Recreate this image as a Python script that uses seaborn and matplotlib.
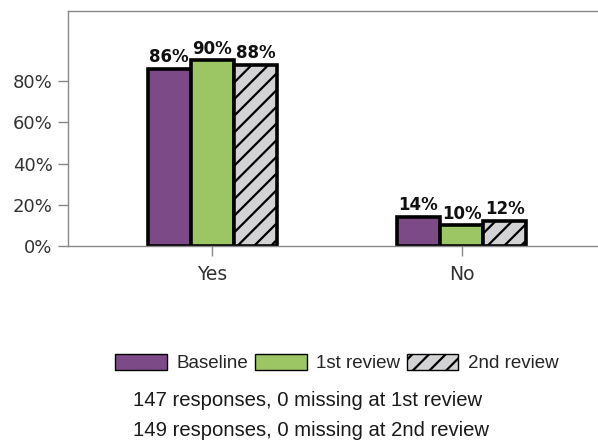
import numpy as np
import pandas as pd
import matplotlib
matplotlib.use('Agg')
import matplotlib.pyplot as plt
from matplotlib.patches import Patch
import seaborn as sns

# Data
answers = ['Yes', 'No']
reviews = ['Baseline', '1st review', '2nd review']
baseline_pct = [86, 14]
first_review_pct = [90, 10]
second_review_pct = [88, 12]
y_ticks = [0, 20, 40, 60, 80]
notes = ['147 responses, 0 missing at 1st review',
         '149 responses, 0 missing at 2nd review']

PALETTE = {'Baseline': '#7d4a88', '1st review': '#9cc563', '2nd review': '#d3d3d5'}

df = pd.DataFrame({
    'answer': answers * 3,
    'review': np.repeat(reviews, len(answers)),
    'pct': baseline_pct + first_review_pct + second_review_pct,
})

sns.set_style('white')
plt.rcParams['font.family'] = ['DejaVu Sans']
plt.rcParams['hatch.linewidth'] = 1.6

fig = plt.figure(figsize=(5.98, 4.41), dpi=100)
ax = fig.add_axes([68 / 598, 1 - 246 / 441, (606 - 68) / 598, (246 - 11) / 441])

sns.barplot(data=df, x='answer', y='pct', hue='review', order=answers,
            hue_order=reviews, palette=PALETTE, saturation=1, edgecolor='black',
            linewidth=2.6, width=0.52, gap=0, ax=ax, legend=False)

for bar in ax.containers[2]:
    bar.set_hatch('//')

for cont in ax.containers:
    ax.bar_label(cont, fmt='%d%%', fontweight='bold', fontsize=12,
                 padding=2, color='#111111')

ax.set_xlim(-0.58, 1.58)
ax.set_ylim(0, 114)
ax.set_yticks(y_ticks)
ax.set_yticklabels([f'{v}%' for v in y_ticks])
ax.set_xlabel('')
ax.set_ylabel('')
ax.tick_params(axis='both', length=7.5, width=1, color='#888888',
               labelsize=13, labelcolor='#333333', pad=3.5, left=True, bottom=True)
ax.tick_params(axis='x', labelsize=13.5, pad=6)
for side in ['left', 'top', 'bottom']:
    ax.spines[side].set_color('#888888')
    ax.spines[side].set_linewidth(1)
ax.spines['right'].set_visible(False)

# legend built from the bar styles
handles = [Patch(facecolor=PALETTE[r], edgecolor='black', linewidth=1,
                 hatch='//' if r == '2nd review' else None, label=r) for r in reviews]
fig.legend(handles=handles, loc='center', bbox_to_anchor=(337 / 598, 1 - 363 / 441),
           ncol=3, frameon=False, handlelength=2.77, handleheight=1.0,
           handletextpad=0.53, columnspacing=0.32, borderaxespad=0,
           prop={'family': 'Liberation Sans', 'size': 13.5})

for i, line in enumerate(notes):
    fig.text(133 / 598, 1 - (401 + 29 * i) / 441, line, ha='left', va='center',
             fontsize=14.6, color='#1a1a1a', family='Liberation Sans')

fig.savefig('out.png', dpi=100)
